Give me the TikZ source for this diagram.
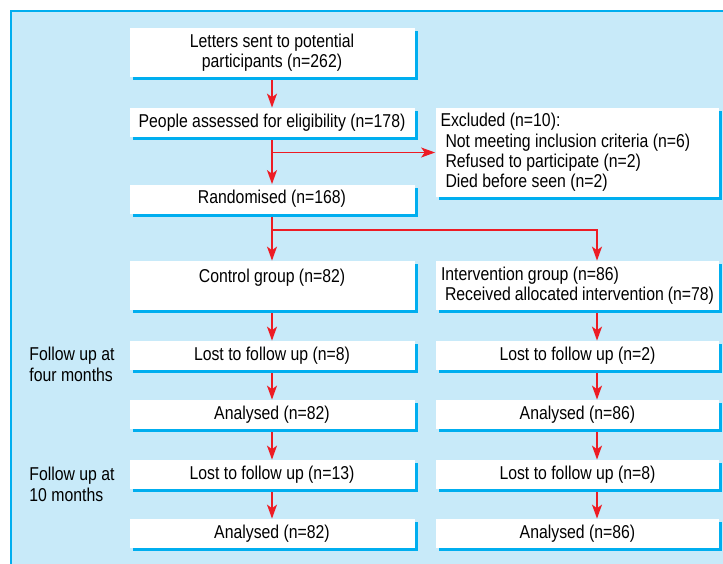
\documentclass[tikz,border=0pt]{standalone}
\usepackage{fontspec}
\setmainfont[FakeStretch=0.85]{Liberation Sans}
\usetikzlibrary{arrows.meta,shadows}

\definecolor{panelblue}{RGB}{200,234,249}
\definecolor{edgeblue}{RGB}{0,174,239}
\definecolor{flowred}{RGB}{237,28,36}

\begin{document}
\begin{tikzpicture}[x=0.5pt,y=-0.5pt,
    font=\fontsize{9.3}{10.2}\selectfont,
    box/.style={fill=white,inner sep=0pt,minimum height=14.5pt,align=center,
      drop shadow={shadow xshift=1.5pt,shadow yshift=-1.5pt,fill=edgeblue,opacity=1}},
    lbox/.style={box,minimum width=142.5pt},
    rbox/.style={box,minimum width=141.5pt},
    listbox/.style={rbox,inner xsep=2.5pt,text width=136.5pt,align=flush left},
    flow/.style={draw=flowred,line width=0.7pt,shorten <=1.5pt,
      -{Stealth[length=7pt,width=5pt,inset=1.8pt]}}]
      % panel
      \useasboundingbox (0,0) rectangle (723,563);
      \fill[panelblue] (11,11) rectangle (730,570);
      \draw[edgeblue,line width=0.6pt] (11,570) -- (11,11) -- (730,11);

      % enrolment
      \node[lbox,minimum height=24.5pt] (letters) at (272,52.5)
        {Letters sent to potential\\participants (n=262)};
      \node[lbox] (assess) at (272,122.5) {People assessed for eligibility (n=178)};
      \node[lbox] (random) at (272,199) {Randomised (n=168)};
      \node[listbox,minimum height=44.5pt] (exclude) at (577,152.5)
        {Excluded (n=10):\\
         \hspace*{2.5pt}Not meeting inclusion criteria (n=6)\\
         \hspace*{2.5pt}Refused to participate (n=2)\\
         \hspace*{2.5pt}Died before seen (n=2)};

      % allocation
      \node[lbox,minimum height=24.5pt] (control) at (272,285.5)
        {Control group (n=82)\\\mbox{}};
      \node[listbox,minimum height=24.5pt] (interv) at (577.5,285.5)
        {Intervention group (n=86)\\
         \hspace*{2pt}Received allocated intervention (n=78)};

      % follow up
      \node[lbox] (lost4c) at (272,355.5) {Lost to follow up (n=8)};
      \node[rbox] (lost4i) at (577.5,355.5) {Lost to follow up (n=2)};
      \node[lbox] (anal4c) at (272,414.5) {Analysed (n=82)};
      \node[rbox] (anal4i) at (577.5,414.5) {Analysed (n=86)};
      \node[lbox] (lost10c) at (272,474.5) {Lost to follow up (n=13)};
      \node[rbox] (lost10i) at (577.5,474.5) {Lost to follow up (n=8)};
      \node[lbox] (anal10c) at (272,533.5) {Analysed (n=82)};
      \node[rbox] (anal10i) at (577.5,533.5) {Analysed (n=86)};

      \node[anchor=west,align=left,inner sep=0pt] (four) at (29,364.5)
        {Follow up at\\four months};
      \node[anchor=west,align=left,inner sep=0pt] (ten) at (29,484.5)
        {Follow up at\\10 months};

      % connectors
      \coordinate (rcol) at (597,0);
      \coordinate (split) at (272,230);
      \draw[flow] (letters) -- (assess);
      \draw[flow] (assess) -- (random);
      \draw[flow,shorten <=0pt] (assess.south |- exclude.west) -- (exclude.west);
      \draw[flow] (random) -- (control);
      \draw[flow] (random.south) -- (split) -| (interv.north -| rcol);
      \draw[flow] (control) -- (lost4c);
      \draw[flow] (lost4c) -- (anal4c);
      \draw[flow] (anal4c) -- (lost10c);
      \draw[flow] (lost10c) -- (anal10c);
      \draw[flow] (interv.south -| rcol) -- (lost4i.north -| rcol);
      \draw[flow] (lost4i.south -| rcol) -- (anal4i.north -| rcol);
      \draw[flow] (anal4i.south -| rcol) -- (lost10i.north -| rcol);
      \draw[flow] (lost10i.south -| rcol) -- (anal10i.north -| rcol);
\end{tikzpicture}
\end{document}
